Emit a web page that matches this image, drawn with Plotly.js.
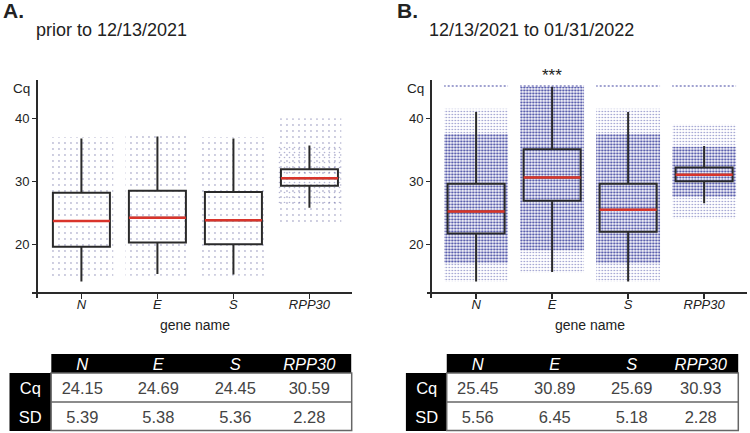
<!DOCTYPE html>
<html>
<head>
<meta charset="utf-8">
<script src="https://cdn.plot.ly/plotly-3.0.1.min.js"></script>
<style>html,body{margin:0;padding:0;background:#fff;}#chart{width:750px;height:433px;}</style>
</head>
<body>
<div id="chart"></div>
<script>
// ---------- data ----------
const genes = ['N', 'E', 'S', 'RPP30'];

// Panel A: prior to 12/13/2021 (box summary, Cq)
const aQ1     = [19.6, 20.3, 20.0, 29.3];
const aMedian = [23.7, 24.2, 23.8, 30.5];
const aQ3     = [28.2, 28.5, 28.3, 31.9];
const aLow    = [14.1, 15.3, 15.2, 25.8];
const aHigh   = [36.8, 37.1, 36.8, 35.7];
// extent of the individual sample points (sparse cloud / denser core)
const aCloudLo = [14.5, 15.0, 15.0, 23.0];
const aCloudHi = [37.0, 37.5, 37.0, 40.0];
const aCoreLo  = [null, null, null, 26.5];
const aCoreHi  = [null, null, null, 36.0];

// Panel B: 12/13/2021 to 01/31/2022
const bQ1     = [21.7, 26.9, 22.0, 30.0];
const bMedian = [25.2, 30.6, 25.5, 31.05];
const bQ3     = [29.6, 35.1, 29.6, 32.2];
const bLow    = [14.1, 15.6, 14.1, 26.5];
const bHigh   = [41.0, 45.0, 41.0, 35.6];
const bCloudLo = [14.0, 15.5, 14.0, 24.0];
const bCloudHi = [41.5, 45.0, 41.5, 39.0];
const bCoreLo  = [17.0, 19.0, 17.0, 27.5];
const bCoreHi  = [37.5, 45.0, 37.5, 35.5];
const bNonDetect = [45, 45, 45, 45];   // row of samples at Cq 45

// Tables
const rowLabels = ['Cq', 'SD'];
const aMeanCq = ['24.15', '24.69', '24.45', '30.59'];
const aSD     = ['5.39', '5.38', '5.36', '2.28'];
const bMeanCq = ['25.45', '30.89', '25.69', '30.93'];
const bSD     = ['5.56', '6.45', '5.18', '2.28'];

// ---------- helpers ----------
const W = 750, H = 433;
const px = v => v / W;
const py = v => 1 - v / H;
const FONT = 'Liberation Sans, Arial, Helvetica, sans-serif';
const dark = '#2a2a2a';
const boxWidth = 0.75, cloudWidth = 0.84;
const catPx = 76; // pixel distance between categories
const medianSize = boxWidth * catPx / 1.4;

function cloud(lo, hi, xa, ya, pat) {
  return {
    type: 'bar', x: genes, base: lo,
    y: lo.map((v, i) => (v == null ? null : hi[i] - v)),
    width: cloudWidth, xaxis: xa, yaxis: ya,
    marker: {color: 'rgba(0,0,0,0)', line: {width: 0},
      pattern: Object.assign({shape: '.', bgcolor: 'rgba(0,0,0,0)', fillmode: 'overlay'}, pat)},
    hoverinfo: 'skip', showlegend: false
  };
}
function boxes(q1, med, q3, lo, hi, xa, ya) {
  return {
    type: 'box', x: genes, q1: q1, median: med, q3: q3, lowerfence: lo, upperfence: hi,
    width: boxWidth, whiskerwidth: 0, xaxis: xa, yaxis: ya,
    line: {color: dark, width: 2}, fillcolor: 'rgba(0,0,0,0)', boxpoints: false,
    hoverinfo: 'skip', showlegend: false
  };
}
function medians(med, xa, ya) {
  return {
    type: 'scatter', mode: 'markers', x: genes, y: med, xaxis: xa, yaxis: ya,
    marker: {symbol: 'line-ew', size: medianSize, line: {color: '#d9342b', width: 2.5}},
    hoverinfo: 'skip', showlegend: false, cliponaxis: false
  };
}
// table drawn as a heatmap of black / white cells with their text
const rowH = [19, 29, 29];
function tableTrace(cq, sd, colW, xa, ya) {
  const xe = [0]; colW.forEach(w => xe.push(xe[xe.length - 1] + w));
  const ye = [0]; rowH.forEach(h => ye.push(ye[ye.length - 1] + h));
  const text = [
    [''].concat(genes.map(g => '<i>' + g + '</i>')),
    [rowLabels[0]].concat(cq),
    [rowLabels[1]].concat(sd)
  ];
  const z = text.map((row, r) => row.map((t, c) => (r === 0 ? (c === 0 ? 0 : 1) : (c === 0 ? 1 : 0))));
  return {
    type: 'heatmap', x: xe, y: ye, z: z, text: text, texttemplate: '%{text}',
    textfont: {family: FONT, size: 16.5},
    colorscale: [[0, '#ffffff'], [1, '#000000']], zmin: 0, zmax: 1, showscale: false,
    xaxis: xa, yaxis: ya, hoverinfo: 'skip'
  };
}
const tableAxis = (d, anchor, rng) => ({domain: d, anchor: anchor, range: rng, visible: false, fixedrange: true});

const patA = {size: 6, solidity: 0.08, fgcolor: '#6b6ba3', fgopacity: 0.45};
const patACore = {size: 5, solidity: 0.08, fgcolor: '#5a5a9e', fgopacity: 0.45};
const patB = {size: 3, solidity: 0.2, fgcolor: '#2b2f96', fgopacity: 0.55};
const patBCore = {size: 3, solidity: 0.45, fgcolor: '#2b2f96', fgopacity: 0.7};
const patND = {size: 4, solidity: 0.2, fgcolor: '#2b2f96', fgopacity: 0.6};

const colWA = [41.7, 62, 90, 64, 84.7];
const colWB = [41, 62.6, 90, 64, 75];

const traces = [
  cloud(aCloudLo, aCloudHi, 'x', 'y', patA),
  cloud(aCoreLo, aCoreHi, 'x', 'y', patACore),
  boxes(aQ1, aMedian, aQ3, aLow, aHigh, 'x', 'y'),
  medians(aMedian, 'x', 'y'),
  cloud(bCloudLo, bCloudHi, 'x2', 'y2', patB),
  cloud(bCoreLo, bCoreHi, 'x2', 'y2', patBCore),
  cloud(bNonDetect.map(v => v - 0.3), bNonDetect.map(v => v + 0.3), 'x2', 'y2', patND),
  boxes(bQ1, bMedian, bQ3, bLow, bHigh, 'x2', 'y2'),
  medians(bMedian, 'x2', 'y2'),
  tableTrace(aMeanCq, aSD, colWA, 'x3', 'y3'),
  tableTrace(bMeanCq, bSD, colWB, 'x4', 'y4')
];

const yRange = [11.43, 46.08];
const xRange = [-0.65, 3.56];
function xAxis(d0, d1) {
  return {domain: [px(d0), px(d1)], anchor: 'free', position: py(292.3), type: 'category',
    range: xRange, showline: true, linecolor: dark, linewidth: 1.5,
    ticks: 'outside', ticklen: 5, tickwidth: 1.5, tickcolor: dark, ticklabelstandoff: -5,
    tickfont: {family: FONT, size: 13, style: 'italic', color: '#222'},
    showgrid: false, zeroline: false, fixedrange: true};
}
function yAxis(p) {
  return {domain: [py(298.3), py(80)], anchor: 'free', position: px(p), range: yRange,
    tickmode: 'array', tickvals: [20, 30, 40], showline: true, linecolor: dark, linewidth: 1.5,
    ticks: 'outside', ticklen: 4, tickwidth: 1.5, tickcolor: dark,
    tickfont: {family: FONT, size: 13, color: '#222'},
    showgrid: false, zeroline: false, fixedrange: true};
}

const ann = (text, x, y, opts) => Object.assign({text: text, x: x, y: y, xref: 'paper', yref: 'paper',
  showarrow: false, xanchor: 'left', yanchor: 'middle', font: {family: FONT, size: 18, color: '#222'}}, opts || {});

const frame = (x0, x1) => [
  {type: 'rect', xref: 'paper', yref: 'paper', x0: px(x0), x1: px(x1), y0: py(430.5), y1: py(373),
    line: {color: '#666', width: 1.5}, fillcolor: 'rgba(0,0,0,0)'},
  {type: 'line', xref: 'paper', yref: 'paper', x0: px(x0), x1: px(x1), y0: py(402), y1: py(402),
    line: {color: '#666', width: 1.5}}
];

const sum = a => a.reduce((s, v) => s + v, 0);
const layout = {
  width: W, height: H, margin: {l: 0, r: 0, t: 0, b: 0},
  paper_bgcolor: 'white', plot_bgcolor: 'rgba(0,0,0,0)',
  showlegend: false, barmode: 'overlay', boxmode: 'overlay',
  font: {family: FONT, color: '#222'},
  xaxis: xAxis(32, 352), yaxis: yAxis(36),
  xaxis2: xAxis(426.7, 746.7), yaxis2: yAxis(430),
  xaxis3: tableAxis([px(9.3), px(351.7)], 'y3', [0, sum(colWA)]),
  yaxis3: tableAxis([py(431), py(354)], 'x3', [sum(rowH), 0]),
  xaxis4: tableAxis([px(405.7), px(738.3)], 'y4', [0, sum(colWB)]),
  yaxis4: tableAxis([py(431), py(354)], 'x4', [sum(rowH), 0]),
  shapes: frame(51, 351.7).concat(frame(446.7, 738.3)),
  annotations: [
    ann('<b>A.</b>', px(1), py(11), {font: {family: FONT, size: 21, color: '#222'}}),
    ann('prior to 12/13/2021', px(34), py(30)),
    ann('<b>B.</b>', px(395), py(11), {font: {family: FONT, size: 21, color: '#222'}}),
    ann('12/13/2021 to 01/31/2022', px(427), py(30)),
    ann('Cq', px(21), py(88), {xanchor: 'center', font: {family: FONT, size: 13.5, color: '#222'}}),
    ann('Cq', px(415), py(88), {xanchor: 'center', font: {family: FONT, size: 13.5, color: '#222'}}),
    ann('***', 'E', py(76), {xref: 'x2', xanchor: 'center', font: {family: FONT, size: 17, color: '#222'}}),
    ann('gene name', 1.5, py(325), {xref: 'x', xanchor: 'center', font: {family: FONT, size: 14, color: '#222'}}),
    ann('gene name', 1.5, py(325), {xref: 'x2', xanchor: 'center', font: {family: FONT, size: 14, color: '#222'}})
  ]
};

Plotly.newPlot('chart', traces, layout, {staticPlot: true, displayModeBar: false});
</script>
</body>
</html>
